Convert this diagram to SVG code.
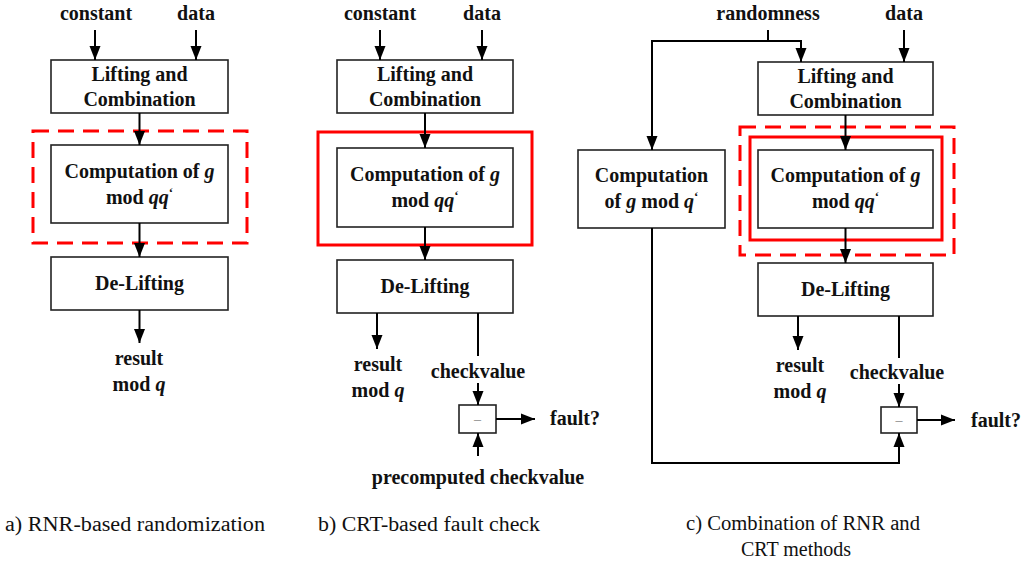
<svg xmlns="http://www.w3.org/2000/svg" width="1025" height="565" viewBox="0 0 1025 565">
<style>
.box{fill:#fff;stroke:#222;stroke-width:1.6}
.ln{fill:none;stroke:#000;stroke-width:2}
.arr{fill:none;stroke:#000;stroke-width:2;marker-end:url(#ah)}
.t{font-size:20px;font-weight:bold;fill:#111;text-anchor:middle}
.cap{font-size:20px;fill:#111}
.i{font-style:italic}
.redd{fill:none;stroke:#ff0000;stroke-width:3;stroke-dasharray:16 9}
.reds{fill:none;stroke:#ff0000;stroke-width:3}
.minus{font-size:14px;fill:#888;text-anchor:middle}
</style>
<defs>
<marker id="ah" markerUnits="userSpaceOnUse" markerWidth="14" markerHeight="14" viewBox="0 0 14 14" refX="14" refY="7" orient="auto">
<path d="M0,1.5 L14,7 L0,12.5 Z" fill="#000"/>
</marker>
</defs>
<g font-family="Liberation Serif, DejaVu Serif, serif">

<!-- Panel a -->
<g id="a-inputs">
<text class="t" x="96" y="20">constant</text>
<text class="t" x="196" y="20">data</text>
</g>
<g id="a-lifting"><rect class="box" x="51" y="60" width="177" height="53"/><text class="t" x="139.5" y="81">Lifting and</text><text class="t" x="139.5" y="106">Combination</text></g>
<g id="a-redbox"><rect class="redd" x="33" y="131" width="214" height="112"/></g>
<g id="a-comp"><rect class="box" x="51" y="145" width="177" height="78"/><text class="t" x="139.5" y="178">Computation of <tspan class="i">g</tspan></text><text class="t" x="139.5" y="204">mod <tspan class="i">qq</tspan><tspan dy="-7" font-size="13">ʻ</tspan></text></g>
<g id="a-delift"><rect class="box" x="51" y="257" width="177" height="53"/><text class="t" x="139.5" y="290">De-Lifting</text></g>
<g id="a-result"><text class="t" x="139" y="365">result</text><text class="t" x="139" y="391">mod <tspan class="i">q</tspan></text></g>

<!-- Panel b -->
<g id="b-inputs">
<text class="t" x="380" y="20">constant</text>
<text class="t" x="482" y="20">data</text>
</g>
<g id="b-lifting"><rect class="box" x="337" y="60" width="176" height="53"/><text class="t" x="425" y="81">Lifting and</text><text class="t" x="425" y="106">Combination</text></g>
<g id="b-redbox"><rect class="reds" x="318" y="132" width="214" height="113"/></g>
<g id="b-comp"><rect class="box" x="337" y="148" width="176" height="79"/><text class="t" x="425" y="181">Computation of <tspan class="i">g</tspan></text><text class="t" x="425" y="207">mod <tspan class="i">qq</tspan><tspan dy="-7" font-size="13">ʻ</tspan></text></g>
<g id="b-delift"><rect class="box" x="337" y="260" width="176" height="53"/><text class="t" x="425" y="293">De-Lifting</text></g>
<g id="b-result"><text class="t" x="378" y="371">result</text><text class="t" x="378" y="397">mod <tspan class="i">q</tspan></text></g>
<g id="b-check"><text class="t" x="478" y="378">checkvalue</text></g>
<g id="b-minus"><rect class="box" x="459" y="405" width="37" height="28"/><text class="minus" x="477.5" y="424">–</text></g>
<g id="b-fault"><text class="t" x="575" y="425">fault?</text></g>
<g id="b-pre"><text class="t" x="478" y="484">precomputed checkvalue</text></g>

<!-- Panel c -->
<g id="c-inputs">
<text class="t" x="768" y="20">randomness</text>
<text class="t" x="904" y="20">data</text>
</g>
<g id="c-lifting"><rect class="box" x="758" y="62" width="175" height="53"/><text class="t" x="845.5" y="83">Lifting and</text><text class="t" x="845.5" y="108">Combination</text></g>
<g id="c-compq"><rect class="box" x="578" y="150" width="147" height="78"/><text class="t" x="651.5" y="182">Computation</text><text class="t" x="651.5" y="208">of <tspan class="i">g</tspan> mod <tspan class="i">q</tspan><tspan dy="-7" font-size="13">ʻ</tspan></text></g>
<g id="c-redboxes"><rect class="redd" x="740" y="127" width="214" height="128"/><rect class="reds" x="750" y="137" width="192" height="103"/></g>
<g id="c-comp"><rect class="box" x="758" y="150" width="175" height="78"/><text class="t" x="845.5" y="182">Computation of <tspan class="i">g</tspan></text><text class="t" x="845.5" y="208">mod <tspan class="i">qq</tspan><tspan dy="-7" font-size="13">ʻ</tspan></text></g>
<g id="c-delift"><rect class="box" x="758" y="263" width="175" height="53"/><text class="t" x="845.5" y="296">De-Lifting</text></g>
<g id="c-result"><text class="t" x="800" y="372">result</text><text class="t" x="800" y="398">mod <tspan class="i">q</tspan></text></g>
<g id="c-check"><text class="t" x="897" y="379">checkvalue</text></g>
<g id="c-minus"><rect class="box" x="881" y="407" width="36" height="26"/><text class="minus" x="899" y="425">–</text></g>
<g id="c-fault"><text class="t" x="996" y="427">fault?</text></g>

<!-- Captions -->
<g id="captions">
<text class="cap" x="5" y="531" textLength="260" lengthAdjust="spacingAndGlyphs">a) RNR-based randomization</text>
<text class="cap" x="318" y="531" textLength="222" lengthAdjust="spacingAndGlyphs">b) CRT-based fault check</text>
<text class="cap" x="686" y="530" textLength="234" lengthAdjust="spacingAndGlyphs">c) Combination of RNR and</text>
<text class="cap" x="796" y="556" text-anchor="middle">CRT methods</text>
</g>
</g>

<g id="connectors">
<!-- a -->
<line class="arr" x1="95" y1="30" x2="95" y2="60"/>
<line class="arr" x1="196" y1="30" x2="196" y2="60"/>
<line class="arr" x1="139.5" y1="113" x2="139.5" y2="145"/>
<line class="arr" x1="139.5" y1="223" x2="139.5" y2="257"/>
<line class="arr" x1="139.5" y1="310" x2="139.5" y2="343"/>
<!-- b -->
<line class="arr" x1="380" y1="30" x2="380" y2="60"/>
<line class="arr" x1="482" y1="30" x2="482" y2="60"/>
<line class="arr" x1="425" y1="113" x2="425" y2="148"/>
<line class="arr" x1="425" y1="227" x2="425" y2="260"/>
<line class="arr" x1="377" y1="313" x2="377" y2="349"/>
<line class="ln" x1="478" y1="313" x2="478" y2="356"/>
<line class="arr" x1="478" y1="383" x2="478" y2="405"/>
<line class="arr" x1="496" y1="419" x2="535" y2="419"/>
<line class="arr" x1="478" y1="456" x2="478" y2="433"/>
<!-- c -->
<polyline class="arr" points="768,30 768,41 801,41 801,62"/>
<polyline class="arr" points="768,41 652,41 652,150"/>
<line class="arr" x1="904" y1="30" x2="904" y2="62"/>
<line class="arr" x1="845.5" y1="115" x2="845.5" y2="150"/>
<line class="arr" x1="845.5" y1="228" x2="845.5" y2="263"/>
<line class="arr" x1="798" y1="316" x2="798" y2="350"/>
<line class="ln" x1="899" y1="316" x2="899" y2="358"/>
<line class="arr" x1="899" y1="384" x2="899" y2="407"/>
<line class="arr" x1="917" y1="420" x2="955" y2="420"/>
<polyline class="arr" points="652,228 652,463 899,463 899,433"/>
</g>
</svg>
